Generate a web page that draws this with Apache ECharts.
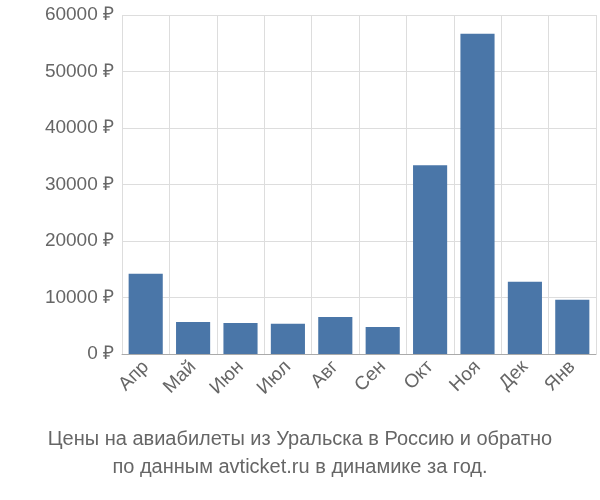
<!DOCTYPE html>
<html><head><meta charset="utf-8">
<script src="https://cdn.jsdelivr.net/npm/echarts@6/dist/echarts.min.js"></script>
</head><body style="margin:0">
<div id="chart" style="width:600px;height:500px"></div>
<script>
const months = ['Апр','Май','Июн','Июл','Авг','Сен','Окт','Ноя','Дек','Янв'];
const prices = [14200, 5650, 5500, 5350, 6550, 4800, 33400, 56700, 12800, 9600];

const chart = echarts.init(document.getElementById('chart'));
chart.setOption({
  animation: false,
  grid: { left: 122, right: 4, top: 15, bottom: 146 },
  title: {
    text: 'Цены на авиабилеты из Уральска в Россию и обратно\nпо данным avticket.ru в динамике за год.',
    left: 'center', bottom: 14,
    textStyle: { color: '#666', fontSize: 20, fontWeight: 'normal', fontFamily: 'Liberation Sans', lineHeight: 28 }
  },
  xAxis: {
    type: 'category', data: months,
    axisLine: { lineStyle: { color: '#aaa' } },
    axisTick: { show: false },
    splitLine: { show: true, lineStyle: { color: '#ddd' } },
    axisLabel: { rotate: 45, color: '#666', fontSize: 19, fontFamily: 'Liberation Sans', margin: 10 }
  },
  yAxis: {
    type: 'value', min: 0, max: 60000, interval: 10000,
    axisLine: { show: false },
    splitLine: { lineStyle: { color: '#ddd' } },
    axisLabel: { color: '#666', fontSize: 19, fontFamily: 'Liberation Sans', formatter: v => v + ' ₽' }
  },
  series: [{
    type: 'bar', data: prices, barWidth: '72%',
    itemStyle: { color: '#4a76a8' }
  }]
});
</script>
</body></html>
